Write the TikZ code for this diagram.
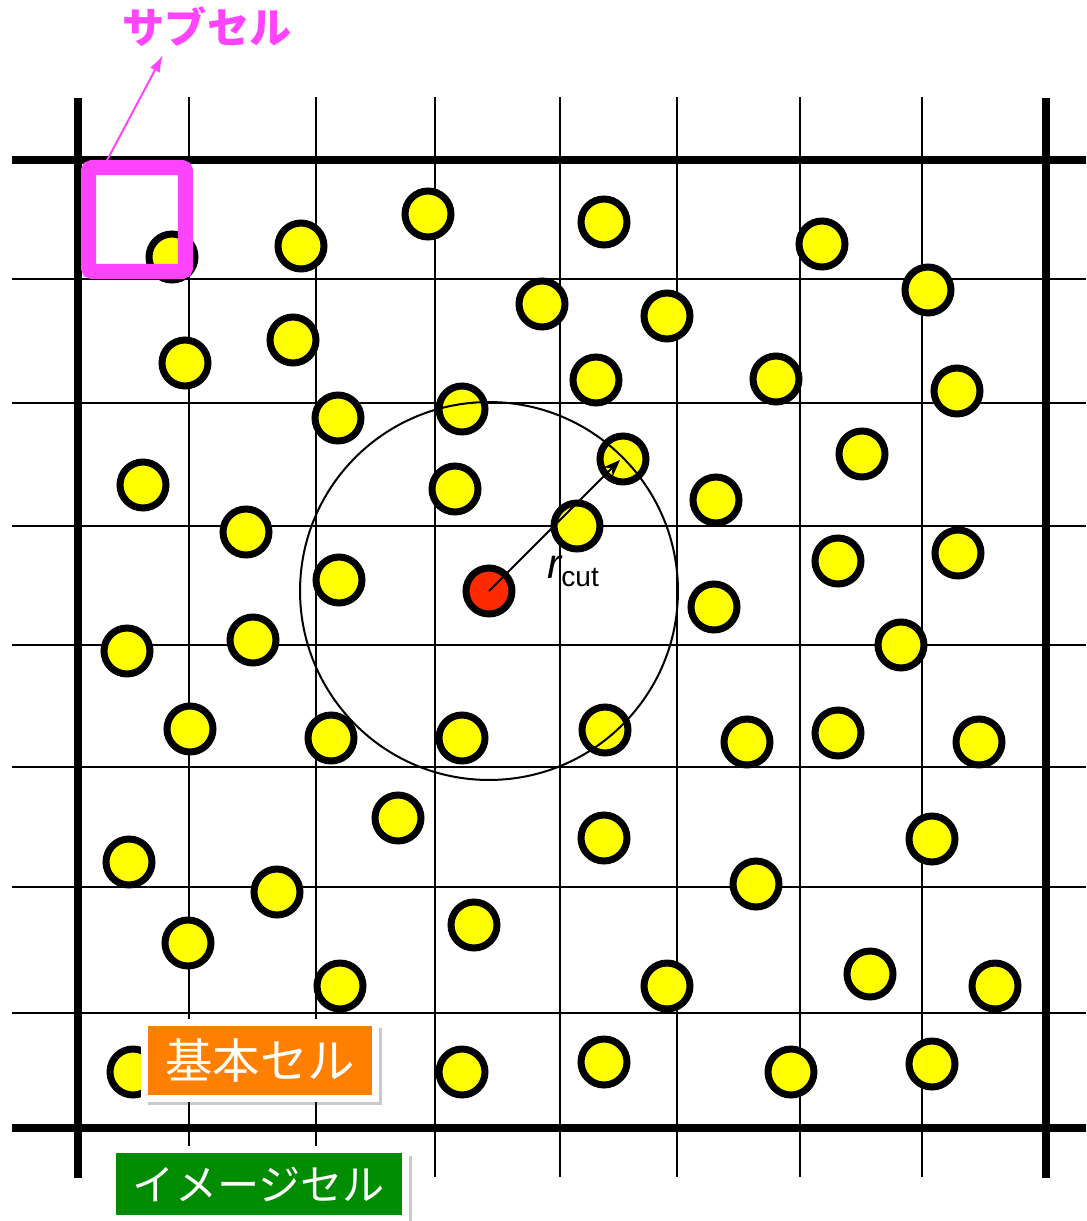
\documentclass[tikz,border=0pt]{standalone}
\usepackage{fontspec}
\setmainfont{Liberation Sans}
\newfontfamily\cjk{Noto Sans CJK JP}
\usetikzlibrary{arrows.meta,shadows}
\definecolor{subcellpink}{HTML}{FF44FF}
\definecolor{atomyellow}{HTML}{FFFF00}
\definecolor{atomred}{HTML}{FF2A00}
\definecolor{cellorange}{HTML}{FF7F00}
\definecolor{imagegreen}{HTML}{008C00}
\tikzset{
  cellline/.style={line width=0.16cm},
  gridline/.style={line width=0.04cm},
  atom/.style={circle, draw=black, line width=0.14cm, fill=atomyellow,
    minimum size=0.92cm, inner sep=0pt},
  cutoff/.style={line width=0.04cm},
  tagbox/.style={draw=white, line width=0.14cm, text=white, inner sep=0pt,
    font=\cjk, drop shadow={opacity=0.3, fill=black!70, shadow xshift=0.1cm,
    shadow yshift=-0.13cm, shadow scale=1.01}},
}

\begin{document}
\begin{tikzpicture}[x=0.02cm, y=-0.02cm]
\useasboundingbox (0,0) rectangle (1086,1221);

% Sub-cell grid
\foreach \gx in {189,316,435,560,677,800,922}
    \draw[gridline] (\gx,97) -- (\gx,1177);
\foreach \gy in {279,403,526,645,767,887,1013}
    \draw[gridline] (12,\gy) -- (1086,\gy);

% Unit cell border
\draw[cellline] (12,160) -- (1086,160);
\draw[cellline] (12,1128) -- (1086,1128);
\draw[cellline] (78,98) -- (78,1178);
\draw[cellline] (1046,98) -- (1046,1178);

% Particles
\foreach \x/\y [count=\i] in {172/257,301/246,428/214,604/222,822/244,928/290,
    542/304,667/316,185/363,293/340,596/380,776/379,957/391,338/418,462/409,
    623/459,862/454,143/485,455/489,716/500,246/532,577/526,838/561,958/553,
    339/580,714/607,127/651,253/640,901/645,190/729,331/738,462/738,605/730,
    747/742,838/733,979/742,398/818,604/838,932/839,129/862,277/892,756/884,
    474/925,188/943,340/986,667/986,870/974,995/986,133/1072,462/1072,
    604/1062,791/1072,932/1064}
    \node[atom] (p\i) at (\x,\y) {};
\node[atom, fill=atomred] (center) at (489,591) {};

% Cut-off sphere
\draw[cutoff] (center.center) circle (3.78cm);
\coordinate (rtip) at (620,460);
\draw[line width=0.04cm, -{Stealth[length=0.34cm, width=0.26cm]}] (center.center) -- (rtip);
\node[anchor=base west, inner sep=0pt] (rlabel) at (547,578)
    {\fontsize{24}{24}\selectfont\itshape r\raisebox{-0.4ex}{\fontsize{16}{16}\selectfont\upshape cut}};

% Sub-cell marker
\node[anchor=south, inner sep=0pt, text=subcellpink, font=\cjk\bfseries\fontsize{24}{24}\selectfont] (sublabel) at (207,47) {サブセル};
\coordinate (subfoot) at (104,166);
\coordinate (subtip) at (163,55);
\draw[subcellpink, line width=0.04cm, -{Latex[length=0.34cm, width=0.22cm]}] (subfoot) -- (subtip);
\node[draw=subcellpink, line width=0.3cm, rounded corners=2pt, minimum width=1.94cm,
    minimum height=2.08cm, inner sep=0pt] (subcell) at (137,219.5) {};

% Cell labels
\node[tagbox, fill=cellorange, minimum width=4.64cm, minimum height=1.52cm,
    font=\cjk\fontsize{27}{27}\selectfont] (basiccell) at (260,1060) {基本セル};
\node[tagbox, fill=imagegreen, minimum width=5.88cm, minimum height=1.38cm,
    font=\cjk\fontsize{24}{24}\selectfont] (imagecell) at (259,1184) {イメージセル};
\end{tikzpicture}
\end{document}
